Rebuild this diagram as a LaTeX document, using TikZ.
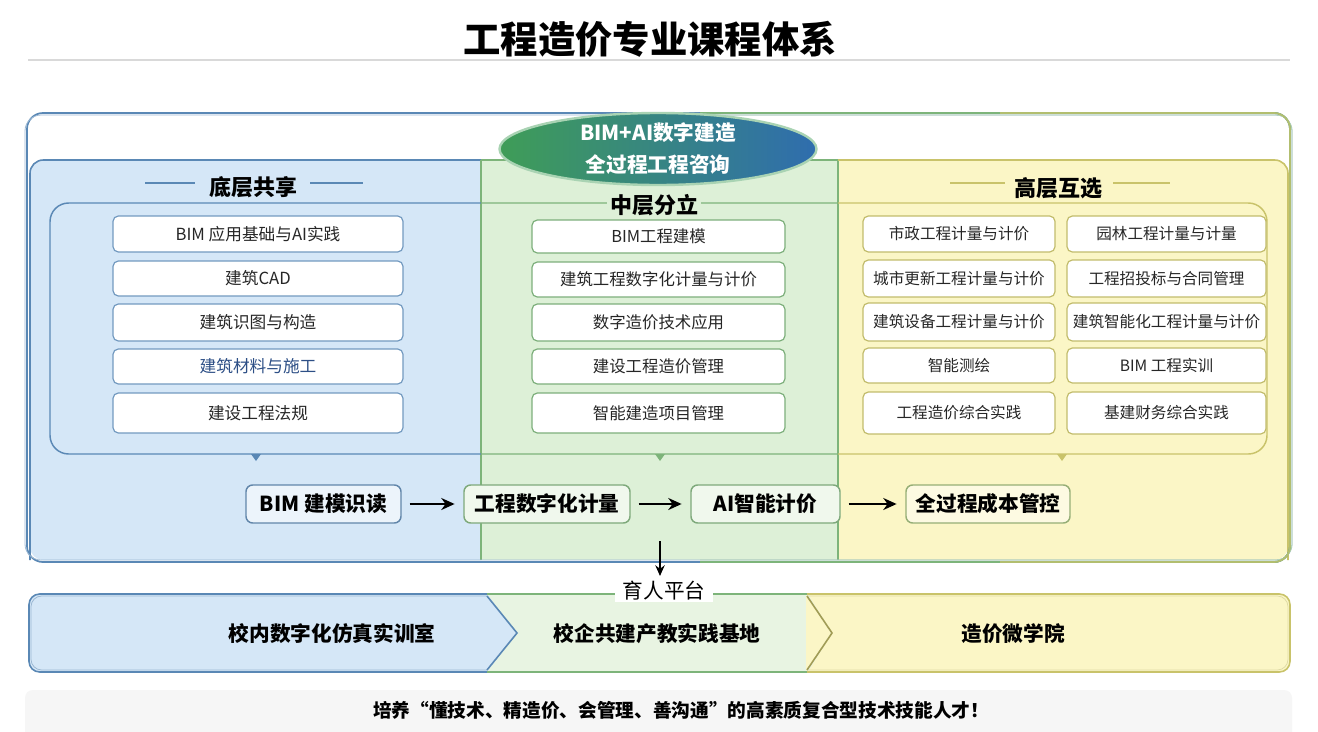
\documentclass[tikz,border=0pt]{standalone}
\usepackage{fontspec}
\setmainfont{Noto Sans CJK SC}
\usetikzlibrary{shapes.geometric,arrows.meta}
\definecolor{bluefill}{HTML}{D5E7F7}
\definecolor{blueline}{HTML}{5A88B5}
\definecolor{greenfill}{HTML}{DDF0D7}
\definecolor{greenline}{HTML}{7DB47A}
\definecolor{yelfill}{HTML}{FBF6C6}
\definecolor{yelline}{HTML}{C9C36A}
\definecolor{ellgreen}{HTML}{3F9D57}
\definecolor{ellblue}{HTML}{2F6DAE}
\definecolor{txtblue}{HTML}{2D4F86}
\definecolor{bandgreen}{HTML}{E8F4E2}
\tikzset{
  bx/.style 2 args={draw, rounded corners=4pt, fill=white, minimum width=#1*0.75pt, minimum height=#2*0.75pt, inner sep=0pt, line width=0.9pt},
  lbx/.style={draw=blueline!85, text=black!85, font=\fontsize{12.5pt}{14pt}\selectfont},
  mbx/.style={draw=greenline!90!gray, text=black!85, font=\fontsize{12.3pt}{14pt}\selectfont},
  rbx/.style={draw=yelline!90!gray, text=black!85, font=\fontsize{11.7pt}{14pt}\selectfont},
  hdr/.style={font=\fontsize{16.5pt}{18pt}\selectfont\bfseries, inner sep=2pt},
  flow/.style={draw, rounded corners=5pt, line width=1.1pt, minimum height=38*0.75pt, inner xsep=6pt, font=\fontsize{15.5pt}{17pt}\selectfont\bfseries},
  farrow/.style={-{Stealth[length=10pt,width=9pt]}, line width=2pt, shorten <=6pt, shorten >=6.5pt},
  bandtxt/.style={font=\fontsize{15.5pt}{17pt}\selectfont\bfseries},
}
\begin{document}
\begin{tikzpicture}[x=0.75pt,y=-0.75pt]
\useasboundingbox (0,0) rectangle (1318,732);
\fill[white] (0,0) rectangle (1318,732);

% title
\node[font=\fontsize{28pt}{30pt}\selectfont\bfseries] (title) at (650,39) {工程造价专业课程体系};
\draw[gray!30, line width=0.8pt] (28,60) -- (1290,60);

% panels
\fill[bluefill, rounded corners=10pt] (481,160) -- (30,160) -- (30,560) -- (481,560);
\fill[greenfill] (481,160) rectangle (838,560);
\fill[yelfill, rounded corners=10pt] (838,160) -- (1288,160) -- (1288,560) -- (838,560);
\draw[blueline, line width=1.2pt, rounded corners=10pt] (481,160) -- (30,160) -- (30,560);
\draw[greenline, line width=1.2pt] (481,160) -- (838,160);
\draw[greenline, line width=1pt] (481,160) -- (481,560) (838,160) -- (838,560);
\draw[yelline, line width=1.2pt, rounded corners=10pt] (838,160) -- (1288,160) -- (1288,560);

% outer frame (sketchy)
\draw[blueline, line width=1.3pt, rounded corners=12pt] (27,113) rectangle (1290,562);
\draw[blueline!60, line width=0.6pt, rounded corners=12pt] (25,115) rectangle (1292,560);
\begin{scope}
\clip (700,0) rectangle (1318,732);
\draw[greenline, line width=1.3pt, rounded corners=12pt] (27,113) rectangle (1290,562);
\draw[greenline!60, line width=0.6pt, rounded corners=12pt] (25,115) rectangle (1292,560);
\end{scope}
\begin{scope}
\clip (1000,0) rectangle (1318,732);
\draw[yelline!70!greenline, line width=1.3pt, rounded corners=12pt] (27,113) rectangle (1290,562);
\end{scope}

% inner rounded rectangle
\begin{scope}
\clip (0,0) rectangle (481,732);
\draw[blueline, line width=1.1pt, rounded corners=14pt] (50,203) rectangle (1267,454);
\end{scope}
\begin{scope}
\clip (481,0) rectangle (838,732);
\draw[greenline, line width=1.1pt, rounded corners=14pt] (50,203) rectangle (1267,454);
\end{scope}
\begin{scope}
\clip (838,0) rectangle (1318,732);
\draw[yelline, line width=1.1pt, rounded corners=14pt] (50,203) rectangle (1267,454);
\end{scope}
\fill[blueline] (251,454) -- (261,454) -- (256,461) -- cycle;
\fill[greenline] (655,454) -- (665,454) -- (660,461) -- cycle;
\fill[yelline] (1057,454) -- (1067,454) -- (1062,461) -- cycle;

% ellipse
\node[ellipse, minimum width=317*0.75pt, minimum height=72*0.75pt, left color=ellgreen, right color=ellblue, draw=white!55!ellgreen, line width=1.8pt, inner sep=0pt] (ell) at (658,149) {};
\node[text=white, font=\fontsize{15.5pt}{24pt}\selectfont\bfseries, align=center] (ellt) at (ell.center) {BIM+AI数字建造\\全过程工程咨询};

% headers
\draw[blueline, line width=2.2pt] (145,183) -- (195,183) (310,183) -- (363,183);
\node[hdr] (h1) at (253,187) {底层共享};
\node[hdr, fill=greenfill] (h2) at (654,205) {中层分立};
\draw[yelline, line width=2.2pt] (950,183) -- (1005,183) (1113,183) -- (1170,183);
\node[hdr] (h3) at (1058,188) {高层互选};

% left column
\node[bx={290}{36}, lbx] (l1) at (258,234) {BIM 应用基础与AI实践};
\node[bx={290}{35}, lbx] (l2) at (258,278.5) {建筑CAD};
\node[bx={290}{37}, lbx] (l3) at (258,322.5) {建筑识图与构造};
\node[bx={290}{35}, lbx, text=txtblue] (l4) at (258,366.5) {建筑材料与施工};
\node[bx={290}{40}, lbx] (l5) at (258,413) {建设工程法规};

% middle column
\node[bx={253}{33}, mbx] (m1) at (658.5,236.5) {BIM工程建模};
\node[bx={253}{35}, mbx] (m2) at (658.5,279.5) {建筑工程数字化计量与计价};
\node[bx={253}{37}, mbx] (m3) at (658.5,322.5) {数字造价技术应用};
\node[bx={253}{35}, mbx] (m4) at (658.5,366.5) {建设工程造价管理};
\node[bx={253}{40}, mbx] (m5) at (658.5,413) {智能建造项目管理};

% right column
\node[bx={192}{36}, rbx] (r11) at (959,234) {市政工程计量与计价};
\node[bx={199}{36}, rbx] (r12) at (1166.5,234) {园林工程计量与计量};
\node[bx={192}{37}, rbx] (r21) at (959,278.5) {城市更新工程计量与计价};
\node[bx={199}{37}, rbx] (r22) at (1166.5,278.5) {工程招投标与合同管理};
\node[bx={192}{38}, rbx] (r31) at (959,322) {建筑设备工程计量与计价};
\node[bx={199}{38}, rbx] (r32) at (1166.5,322) {建筑智能化工程计量与计价};
\node[bx={192}{35}, rbx] (r41) at (959,365.5) {智能测绘};
\node[bx={199}{35}, rbx] (r42) at (1166.5,365.5) {BIM 工程实训};
\node[bx={192}{42}, rbx] (r51) at (959,413) {工程造价综合实践};
\node[bx={199}{42}, rbx] (r52) at (1166.5,413) {基建财务综合实践};

% flow row
\node[flow, draw=blueline!80!gray, fill=white!55!bluefill, minimum width=155*0.75pt] (f1) at (323.5,504) {BIM 建模识读};
\node[flow, draw=greenline!80!gray, fill=white!55!greenfill, minimum width=166*0.75pt] (f2) at (547,504) {工程数字化计量};
\node[flow, draw=greenline!80!gray, fill=white!55!greenfill, minimum width=149*0.75pt] (f3) at (765.5,504) {AI智能计价};
\node[flow, draw=greenline!60!yelline!80!gray, fill=white!50!yelfill, minimum width=164*0.75pt] (f4) at (988,504) {全过程成本管控};
\draw[farrow] (f1) -- (f2);
\draw[farrow] (f2) -- (f3);
\draw[farrow] (f3) -- (f4);

% bottom band
\fill[bluefill, rounded corners=8pt] (487,594) -- (29,594) -- (29,672) -- (487,672);
\fill[bluefill] (486,594) -- (487,594) -- (517,633) -- (487,672) -- (486,672) -- cycle;
\fill[bandgreen] (487,594) -- (807,594) -- (832,633) -- (807,672) -- (487,672) -- (517,633) -- cycle;
\fill[yelfill, rounded corners=8pt] (807,594) -- (1290,594) -- (1290,672) -- (807,672);
\fill[yelfill] (806,594) -- (807,594) -- (832,633) -- (807,672) -- (806,672) -- cycle;
\fill[bandgreen] (806,594.5) -- (808,594.5) -- (832,633) -- (808,671.5) -- (806,671.5) -- (831,633) -- cycle;
\draw[blueline, line width=1.2pt, rounded corners=8pt] (487,594) -- (29,594) -- (29,672) -- (487,672);
\draw[blueline!60, line width=0.6pt, rounded corners=8pt] (487,596) -- (31,596) -- (31,670) -- (487,670);
\draw[greenline, line width=1.2pt] (487,594) -- (807,594) (487,672) -- (807,672);
\draw[yelline, line width=1.2pt, rounded corners=8pt] (807,594) -- (1290,594) -- (1290,672) -- (807,672);
\draw[yelline!60, line width=0.6pt, rounded corners=8pt] (807,596) -- (1288,596) -- (1288,670) -- (807,670);
\draw[blueline, line width=1.2pt] (487,596) -- (517,633) -- (487,670);
\draw[yelline!80!black, line width=1.2pt] (807,596) -- (832,633) -- (807,670);

\node[font=\fontsize{15.5pt}{17pt}\selectfont, fill=white, inner xsep=6pt, inner ysep=1pt] (yr) at (664,591) {育人平台};
\coordinate (ds) at (660,541);
\coordinate (de) at (660,576);
\draw[-{Stealth[length=8pt,width=7pt]}, line width=1.3pt] (ds) -- (de);

\node[bandtxt] (b1) at (332,634) {校内数字化仿真实训室};
\node[bandtxt] (b2) at (657,634) {校企共建产教实践基地};
\node[bandtxt] (b3) at (1013,634) {造价微学院};

% bottom strip
\fill[gray!7, rounded corners=6pt] (25,690) rectangle (1292,740);
\node[font=\fontsize{14pt}{16pt}\selectfont\bfseries] (slogan) at (681,710) {培养“懂技术、精造价、会管理、善沟通”的高素质复合型技术技能人才！};
\end{tikzpicture}
\end{document}
